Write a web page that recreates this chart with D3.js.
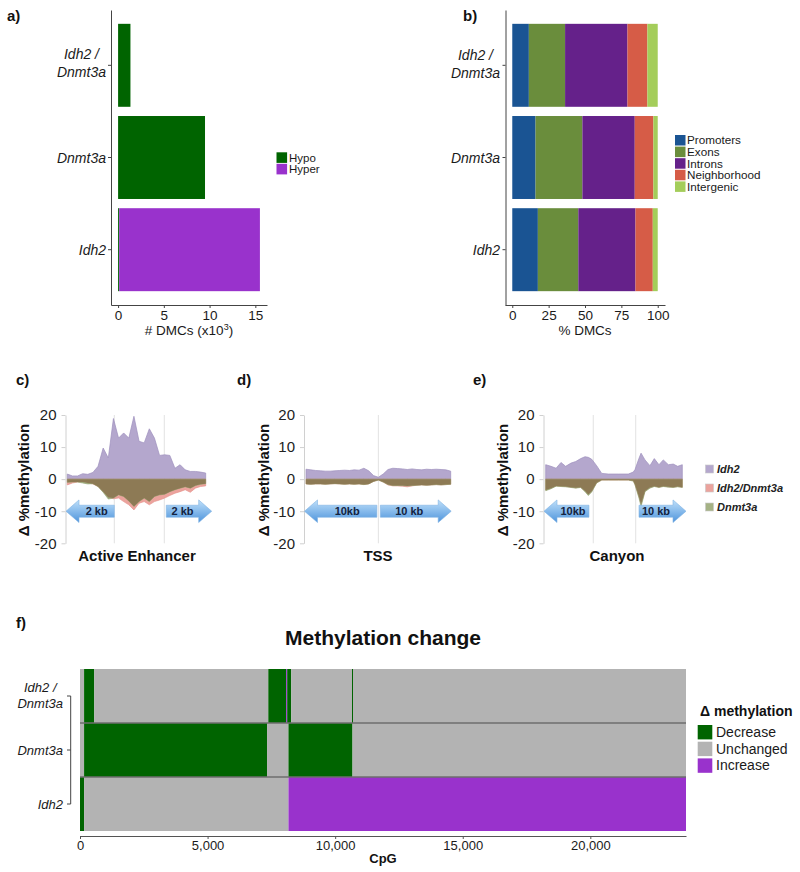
<!DOCTYPE html>
<html><head><meta charset="utf-8">
<script src="https://cdn.jsdelivr.net/npm/d3@7"></script>
<style>
body{margin:0;background:#fff}
svg{display:block}
text{font-family:"Liberation Sans",Arial,sans-serif}
</style>
</head><body>
<svg id="fig" width="800" height="872"></svg>
<script>
// ================= DATA =================
const samples = ["Idh2/Dnmt3a", "Dnmt3a", "Idh2"];
const sampleLines = [["Idh2 /", "Dnmt3a"], ["Dnmt3a"], ["Idh2"]];

// panel a: # DMCs (x10^3)
const dmcTypes = ["Hypo", "Hyper"];
const dmcHypo = [1.35, 9.5, 0.12];
const dmcHyper = [0, 0, 15.38];
const dmcTicks = [0, 5, 10, 15];

// panel b: % DMCs by genomic region
const regions = ["Promoters", "Exons", "Introns", "Neighborhood", "Intergenic"];
const pctPromoters = [11.4, 16.0, 17.6];
const pctExons = [24.9, 32.2, 27.8];
const pctIntrons = [42.9, 36.0, 39.3];
const pctNeighborhood = [13.7, 12.8, 11.9];
const pctIntergenic = [7.1, 3.0, 3.4];
const pctTicks = [0, 25, 50, 75, 100];

// panels c-e: delta %methylation profiles
const profileSeries = ["Idh2", "Idh2/Dnmt3a", "Dnmt3a"];
const profileTicks = [-20, -10, 0, 10, 20];

const enhPos = [0,1,2,3,4,5,6,7,8,9,10,11,12,13,14,15,16,17,18,19,20,21,22,23,24,25,26,27];
const enhIdh2 = [1.6,1.0,1.0,1.7,1.5,2.1,4.0,9.7,6.6,18.9,12.8,14.4,12.8,19.6,11.8,11.3,15.7,12.8,7.4,7.6,7.4,3.4,4.5,2.9,2.4,2.4,2.2,1.9];
const enhDouble = [-1.8,-1.2,-0.9,-0.9,-1.2,-1.5,-2.3,-3.9,-5.7,-6.1,-5.9,-7.0,-8.0,-9.6,-7.5,-7.0,-8.0,-7.0,-6.5,-5.9,-5.1,-4.4,-3.9,-3.3,-4.1,-2.8,-2.3,-2.1];
const enhDnmt3a = [-1.0,-0.9,-0.9,-1.2,-1.5,-1.4,-2.3,-4.1,-6.2,-5.9,-4.9,-5.4,-6.8,-8.5,-7.0,-5.9,-7.0,-5.4,-4.9,-4.7,-3.9,-3.3,-2.8,-2.4,-2.8,-2.0,-1.6,-1.4];
const enhBounds = [9.17, 18.92];

const tssPos = [0,1,2,3,4,5,6,7,8,9,10,11,12,13,14,15,16,17,18,19,20,21,22,23,24,25,26,27,28,29,30];
const tssIdh2 = [3.1,2.9,2.7,2.6,2.5,2.5,2.6,2.7,2.8,2.7,2.9,2.8,3.4,2.6,1.1,0.6,1.6,3.0,3.4,3.3,3.2,3.0,3.2,3.0,2.9,3.1,3.0,3.1,3.0,2.9,2.5];
const tssDouble = [-1.5,-1.6,-1.5,-1.5,-1.6,-1.5,-1.4,-1.5,-1.6,-1.5,-1.6,-1.5,-1.7,-1.5,-0.7,-0.3,-0.9,-1.8,-2.1,-2.1,-2.2,-2.4,-2.1,-1.9,-1.8,-1.9,-1.8,-1.7,-1.8,-1.7,-1.6];
const tssDnmt3a = [-1.5,-1.6,-1.5,-1.5,-1.6,-1.5,-1.4,-1.5,-1.6,-1.5,-1.6,-1.5,-1.7,-1.5,-0.7,-0.3,-0.9,-1.7,-2.0,-2.0,-2.0,-2.1,-2.0,-1.9,-1.8,-1.9,-1.8,-1.7,-1.8,-1.7,-1.6];
const tssBounds = [15];

const canPos = [0,3.9,7.6,11.2,14.6,18.5,22.0,25.6,28.8,31.2,33.7,37.3,41.0,45.9,53.2,60.5,64.1,65.4,68.3,69.8,72.7,76.3,79.5,82.9,86.1,89.8,93.4,96.6,100];
const canIdh2 = [4.5,4.0,3.4,5.2,4.0,5.0,5.5,6.4,7.0,6.8,6.2,4.2,1.8,1.6,1.6,1.6,2.2,3.0,6.5,8.1,6.0,4.2,6.4,4.5,6.0,4.5,4.7,4.0,4.5];
const canDouble = [-3.4,-2.8,-2.1,-2.2,-2.3,-2.5,-2.7,-2.5,-3.7,-4.8,-3.8,-1.1,-0.3,-0.3,-0.3,-0.3,-0.5,-1.7,-5.5,-7.8,-3.7,-2.6,-2.2,-2.5,-2.2,-2.4,-2.5,-2.3,-2.5];
const canDnmt3a = [-3.6,-3.0,-2.2,-2.3,-2.4,-2.6,-2.8,-2.6,-3.9,-5.1,-4.0,-1.2,-0.3,-0.3,-0.3,-0.3,-0.6,-1.8,-5.9,-8.5,-3.9,-2.8,-2.3,-2.6,-2.3,-2.5,-2.6,-2.4,-2.6];
const canBounds = [34.8, 65.9];

// panel f: methylation change along CpGs  [start, end, state]
const changeStates = ["Decrease", "Unchanged", "Increase"];
const segIdh2Dnmt3a = [[0,160,"Unchanged"],[160,560,"Decrease"],[560,7380,"Unchanged"],[7380,8080,"Decrease"],[8080,8120,"Increase"],[8120,8280,"Decrease"],[8280,10660,"Unchanged"],[10660,10700,"Decrease"],[10700,23750,"Unchanged"]];
const segDnmt3a = [[0,160,"Unchanged"],[160,7330,"Decrease"],[7330,8170,"Unchanged"],[8170,10680,"Decrease"],[10680,23750,"Unchanged"]];
const segIdh2 = [[0,160,"Decrease"],[160,8170,"Unchanged"],[8170,23750,"Increase"]];
const cpgTotal = 23750;
const cpgTicks = [0, 5000, 10000, 15000, 20000];

// ================= DRAWING =================
const svg = d3.select("#fig");
const FONT = '"Liberation Sans", Arial, sans-serif';
const ink = "#1a1a1a";

function panelLabel(t, x, y) {
  svg.append("text").attr("x", x).attr("y", y).attr("font-size", 15).attr("font-weight", "bold").attr("fill", "#111").text(t);
}

// multi-line category labels, lines centred within right-aligned block
function catLabels(g, yScale, right, size, offs2, offs1) {
  samples.forEach((s, i) => {
    const c = yScale(s) + (yScale.bandwidth ? yScale.bandwidth() / 2 : 0);
    const lines = sampleLines[i];
    const t = g.append("g");
    const els = lines.map((ln, j) => t.append("text").attr("text-anchor", "middle")
      .attr("font-size", size).attr("font-style", "italic").attr("fill", ink)
      .attr("y", lines.length === 2 ? c + offs2[j] : c + offs1).text(ln));
    const w = d3.max(els, e => e.node().getComputedTextLength());
    els.forEach(e => e.attr("x", right - w / 2));
  });
}

// ---------- panel a ----------
panelLabel("a)", 7, 21);
const yAB = d3.scaleBand().domain(samples).range([10, 305]).paddingInner(0.1).paddingOuter(0.15);
const xA = d3.scaleLinear().domain([-0.775, 16.275]).range([111, 267]);
const colHypo = "#006400", colHyper = "#9932CC";
const gA = svg.append("g");
samples.forEach((s, i) => {
  gA.append("rect").attr("x", xA(0)).attr("y", yAB(s)).attr("width", xA(dmcHypo[i]) - xA(0))
    .attr("height", yAB.bandwidth()).attr("fill", colHypo);
  if (dmcHyper[i] > 0)
    gA.append("rect").attr("x", xA(dmcHypo[i])).attr("y", yAB(s)).attr("width", xA(dmcHypo[i] + dmcHyper[i]) - xA(dmcHypo[i]))
      .attr("height", yAB.bandwidth()).attr("fill", colHyper);
});
function styleAxis(ax, size, col) {
  ax.attr("font-family", FONT).attr("font-size", size);
  ax.select(".domain").attr("stroke", col);
  ax.selectAll(".tick line").attr("stroke", col);
  ax.selectAll(".tick text").attr("fill", ink);
}
const axA = gA.append("g").attr("transform", "translate(0,305)")
  .call(d3.axisBottom(xA).tickValues(dmcTicks).tickSize(3).tickSizeOuter(0).tickPadding(2));
styleAxis(axA, 13.5, "#444");
const ayA = gA.append("g").attr("transform", "translate(111,0)")
  .call(d3.axisLeft(yAB).tickSize(3).tickSizeOuter(0).tickFormat(""));
styleAxis(ayA, 14, "#444");
catLabels(gA, yAB, 106, 14, [-6, 12], 5);
const xlabA = gA.append("text").attr("x", 189).attr("y", 335).attr("text-anchor", "middle").attr("font-size", 13.5).attr("fill", ink);
xlabA.append("tspan").text("# DMCs (x10");
xlabA.append("tspan").attr("font-size", 9).attr("dy", -5).text("3");
xlabA.append("tspan").attr("dy", 5).text(")");
// legend a
[colHypo, colHyper].forEach((c, i) => {
  gA.append("rect").attr("x", 276.5).attr("y", 152.3 + i * 11.5).attr("width", 10.6).attr("height", 10.6).attr("fill", c);
  gA.append("text").attr("x", 289).attr("y", 161.5 + i * 11.5).attr("font-size", 11.5).attr("fill", ink).text(dmcTypes[i]);
});

// ---------- panel b ----------
panelLabel("b)", 463, 21);
const xB = d3.scaleLinear().domain([-5, 105]).range([505, 665]);
const regionCols = ["#1A5493", "#6A8D3C", "#65218A", "#D65C47", "#A4CD5A"];
const tableB = samples.map((s, i) => ({ sample: s, Promoters: pctPromoters[i], Exons: pctExons[i], Introns: pctIntrons[i], Neighborhood: pctNeighborhood[i], Intergenic: pctIntergenic[i] }));
const stackB = d3.stack().keys(regions)(tableB);
const gB = svg.append("g");
stackB.forEach((layer, k) => {
  gB.selectAll(null).data(layer).enter().append("rect")
    .attr("x", d => xB(d[0])).attr("width", d => xB(d[1]) - xB(d[0]))
    .attr("y", d => yAB(d.data.sample)).attr("height", yAB.bandwidth())
    .attr("fill", regionCols[k]);
});
const axB = gB.append("g").attr("transform", "translate(0,305)")
  .call(d3.axisBottom(xB).tickValues(pctTicks).tickSize(3).tickSizeOuter(0).tickPadding(2));
styleAxis(axB, 13.5, "#444");
const ayB = gB.append("g").attr("transform", "translate(505.5,0)")
  .call(d3.axisLeft(yAB).tickSize(3).tickSizeOuter(0).tickFormat(""));
styleAxis(ayB, 14, "#444");
catLabels(gB, yAB, 500, 14, [-5, 13], 5);
gB.append("text").attr("x", 585).attr("y", 335).attr("text-anchor", "middle").attr("font-size", 13.5).attr("fill", ink).text("% DMCs");
regions.forEach((r, i) => {
  gB.append("rect").attr("x", 675).attr("y", 135 + i * 11.6).attr("width", 10.5).attr("height", 10.5).attr("fill", regionCols[i]);
  gB.append("text").attr("x", 687).attr("y", 144.3 + i * 11.6).attr("font-size", 11.7).attr("fill", ink).text(r);
});

// ---------- panels c-e ----------
const defs = svg.append("defs");
const grad = defs.append("linearGradient").attr("id", "arrowGrad").attr("x1", 0).attr("y1", 0).attr("x2", 0).attr("y2", 1);
grad.append("stop").attr("offset", "0%").attr("stop-color", "#bfe0fa");
grad.append("stop").attr("offset", "100%").attr("stop-color", "#4e94dc");

const yP = d3.scaleLinear().domain([-20, 20]).range([543.3, 415]);
const colIdh2 = "#B4A7CD", colDouble = "#EBA39D", colDn = "#A5B285", colOverlap = "#8D7A55";

function arrowPath(xTip, xTail, yc, dir) {
  const hh = 11.3, bh = 6, hw = 13;
  const xb = xTip + dir * hw;
  return `M${xTip},${yc} L${xb},${yc - hh} L${xb},${yc - bh} L${xTail},${yc - bh} L${xTail},${yc + bh} L${xb},${yc + bh} L${xb},${yc + hh} Z`;
}

function profile(cfg) {
  const g = svg.append("g");
  const xs = d3.scaleLinear().domain(cfg.domain).range(cfg.range);
  cfg.bounds.forEach(v => g.append("line").attr("x1", xs(v)).attr("x2", xs(v))
    .attr("y1", yP(20)).attr("y2", yP(-20)).attr("stroke", "#e2e2e2").attr("stroke-width", 1));
  const ax = g.append("g").attr("transform", `translate(${cfg.axisX},0)`)
    .call(d3.axisLeft(yP).tickValues(profileTicks).tickSize(4).tickSizeOuter(0).tickPadding(5).tickFormat(d => String(d)));
  ax.attr("font-family", FONT).attr("font-size", 15);
  ax.select(".domain").attr("stroke", "#d0d0d0");
  ax.selectAll(".tick line").attr("stroke", "#d0d0d0");
  ax.selectAll(".tick text").attr("fill", "#222");

  const rows = cfg.pos.map((p, i) => ({ p, a: cfg.idh2[i], b: cfg.dbl[i], c: cfg.dn[i] }));
  const area = acc => d3.area().x(d => xs(d.p)).y0(yP(0)).y1(d => yP(acc(d)));
  g.append("path").datum(rows).attr("d", area(d => d.a)).attr("fill", colIdh2).attr("stroke", "#9d8fbd").attr("stroke-width", 0.7);
  g.append("path").datum(rows).attr("d", area(d => d.b)).attr("fill", colDouble).attr("stroke", "#e48c85").attr("stroke-width", 0.6);
  g.append("path").datum(rows).attr("d", area(d => d.c)).attr("fill", colDn).attr("stroke", "#8fa06a").attr("stroke-width", 0.6);
  g.append("path").datum(rows).attr("d", area(d => Math.max(d.b, d.c))).attr("fill", colOverlap);

  // arrows
  const yc = yP(-10);
  const b0 = xs(cfg.bounds[0]), b1 = xs(cfg.bounds[cfg.bounds.length - 1]);
  const left = [cfg.axisX + 0.5, b0 - cfg.gapL], right = [b1 + cfg.gapR, cfg.range[1] + cfg.ext];
  g.append("path").attr("d", arrowPath(left[0], left[1], yc, 1)).attr("fill", "url(#arrowGrad)").attr("stroke", "#7fb2e3").attr("stroke-width", 0.6);
  g.append("path").attr("d", arrowPath(right[1], right[0], yc, -1)).attr("fill", "url(#arrowGrad)").attr("stroke", "#7fb2e3").attr("stroke-width", 0.6);
  g.append("text").attr("x", (left[0] + 13 + left[1]) / 2).attr("y", yc + 4).attr("text-anchor", "middle")
    .attr("font-size", 11).attr("font-weight", "bold").attr("fill", "#14233f").text(cfg.arrowText[0]);
  g.append("text").attr("x", (right[0] + right[1] - 13) / 2).attr("y", yc + 4).attr("text-anchor", "middle")
    .attr("font-size", 11).attr("font-weight", "bold").attr("fill", "#14233f").text(cfg.arrowText[1]);

  // titles
  g.append("text").attr("transform", `translate(${cfg.ytX},480) rotate(-90)`).attr("text-anchor", "middle")
    .attr("dominant-baseline", "central").attr("font-size", 15).attr("font-weight", "bold").attr("fill", "#111").text("\u0394 %methylation");
  g.append("text").attr("x", cfg.titleX).attr("y", 561).attr("text-anchor", "middle")
    .attr("font-size", 15).attr("font-weight", "bold").attr("fill", "#111").text(cfg.title);
}

panelLabel("c)", 16, 385);
profile({ domain: [0, 27], range: [67.3, 205.7], axisX: 65.5, pos: enhPos, idh2: enhIdh2, dbl: enhDouble, dn: enhDnmt3a,
  bounds: enhBounds, gapL: 0, gapR: 2, ext: 6, arrowText: ["2 kb", "2 kb"], ytX: 23, titleX: 137, title: "Active Enhancer" });
panelLabel("d)", 237, 385);
profile({ domain: [0, 30], range: [306, 450.7], axisX: 304, pos: tssPos, idh2: tssIdh2, dbl: tssDouble, dn: tssDnmt3a,
  bounds: tssBounds, gapL: 1.5, gapR: 2, ext: 0.5, arrowText: ["10kb", "10 kb"], ytX: 263, titleX: 378, title: "TSS" });
panelLabel("e)", 473, 385);
profile({ domain: [0, 100], range: [545.7, 682.3], axisX: 543.5, pos: canPos, idh2: canIdh2, dbl: canDouble, dn: canDnmt3a,
  bounds: canBounds, gapL: 4.3, gapR: 3.3, ext: 3.7, arrowText: ["10kb", "10 kb"], ytX: 502, titleX: 617, title: "Canyon" });

// legend c-e
[colIdh2, colDouble, colDn].forEach((c, i) => {
  svg.append("rect").attr("x", 705.5).attr("y", 465 + i * 19).attr("width", 8).attr("height", 8)
    .attr("fill", c).attr("stroke", "#c8c8c8").attr("stroke-width", 0.6);
  svg.append("text").attr("x", 717).attr("y", 473 + i * 19).attr("font-size", 11).attr("font-weight", "bold")
    .attr("font-style", "italic").attr("fill", "#222").text(profileSeries[i]);
});

// ---------- panel f ----------
panelLabel("f)", 16, 628);
svg.append("text").attr("x", 383).attr("y", 645).attr("text-anchor", "middle").attr("font-size", 21)
  .attr("font-weight", "bold").attr("fill", "#111").text("Methylation change");
const xF = d3.scaleLinear().domain([0, cpgTotal]).range([80, 686]);
const yF = d3.scaleBand().domain(samples).range([669, 831]);
const stateCols = { Decrease: "#006400", Unchanged: "#B3B3B3", Increase: "#9932CC" };
const segs = [segIdh2Dnmt3a, segDnmt3a, segIdh2];
const gF = svg.append("g");
samples.forEach((s, i) => {
  gF.selectAll(null).data(segs[i]).enter().append("rect")
    .attr("x", d => xF(d[0])).attr("width", d => Math.max(1, xF(d[1]) - xF(d[0])))
    .attr("y", yF(s)).attr("height", yF.bandwidth()).attr("fill", d => stateCols[d[2]]);
});
samples.slice(1).forEach(s => {
  gF.append("line").attr("x1", 80).attr("x2", 686).attr("y1", yF(s)).attr("y2", yF(s)).attr("stroke", "#6e6e6e").attr("stroke-width", 1.5);
});
const axF = gF.append("g").attr("transform", "translate(0,836)")
  .call(d3.axisBottom(xF).tickValues(cpgTicks).tickSize(3).tickSizeOuter(0).tickPadding(2).tickFormat(d3.format(",")));
styleAxis(axF, 13, "#555");
gF.append("text").attr("x", 383).attr("y", 863).attr("text-anchor", "middle").attr("font-size", 13).attr("font-weight", "bold").attr("fill", "#111").text("CpG");
// y bracket axis
const yc0 = yF(samples[0]) + yF.bandwidth() / 2, yc2 = yF(samples[2]) + yF.bandwidth() / 2;
gF.append("line").attr("x1", 70.7).attr("x2", 70.7).attr("y1", yc0).attr("y2", yc2).attr("stroke", "#444");
samples.forEach(s => {
  const c = yF(s) + yF.bandwidth() / 2;
  gF.append("line").attr("x1", 67).attr("x2", 70.7).attr("y1", c).attr("y2", c).attr("stroke", "#444");
});
catLabels(gF, yF, 63, 13, [-4, 11.5], 4.5);
// legend f
gF.append("text").attr("x", 700).attr("y", 716).attr("font-size", 14).attr("font-weight", "bold").attr("fill", "#111").text("\u0394 methylation");
changeStates.forEach((st, i) => {
  gF.append("rect").attr("x", 697.7).attr("y", 725 + i * 16.7).attr("width", 14.6).attr("height", 14.4).attr("fill", stateCols[st]);
  gF.append("text").attr("x", 716).attr("y", 737 + i * 16.7).attr("font-size", 14).attr("fill", ink).text(st);
});
</script>
</body></html>
